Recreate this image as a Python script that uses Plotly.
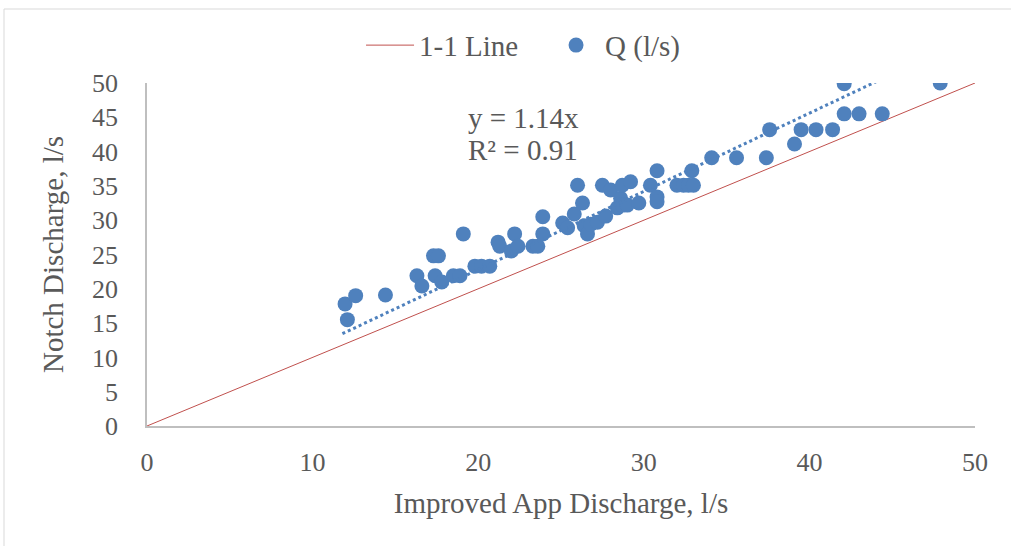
import plotly.graph_objects as go

# Data
app_q = [11.96, 12.1, 12.6, 14.4, 16.3, 16.6, 17.3, 17.6, 17.4, 17.8, 18.5, 18.9,
         19.1, 19.8, 20.2, 20.7, 21.2, 21.3, 22.0, 22.2, 22.4, 23.3, 23.6, 23.9,
         23.9, 25.1, 25.4, 25.8, 26.0, 26.3, 26.4, 26.6, 26.8, 27.2, 27.5, 27.7,
         28.0, 28.4, 28.6, 28.7, 28.7, 29.0, 29.2, 29.7, 30.4, 30.8, 30.8, 30.8,
         32.0, 32.4, 32.7, 32.9, 33.0, 34.1, 35.6, 37.4, 37.6, 39.1, 39.5, 40.4,
         41.4, 42.1, 42.1, 43.0, 44.4, 47.9]
notch_q = [17.8, 15.5, 19.0, 19.1, 21.9, 20.4, 24.8, 24.8, 21.9, 21.0, 21.9, 21.9,
           28.0, 23.3, 23.3, 23.3, 26.8, 26.2, 25.5, 28.0, 26.2, 26.2, 26.2, 30.5,
           28.0, 29.6, 28.9, 30.9, 35.1, 32.5, 29.2, 28.0, 29.4, 29.7, 35.1, 30.6,
           34.4, 31.8, 33.2, 35.1, 32.2, 32.2, 35.6, 32.5, 35.1, 37.2, 33.4, 32.7,
           35.1, 35.1, 35.1, 37.2, 35.1, 39.1, 39.1, 39.1, 43.2, 41.1, 43.2, 43.2,
           43.2, 49.9, 45.5, 45.5, 45.5, 50.0]
one_to_one = [0, 50]
trend_slope = 1.14
trend_x = [11.8, 44.4]
trend_y = [trend_slope * v for v in trend_x]
x_ticks = [0, 10, 20, 30, 40, 50]
y_ticks = [0, 5, 10, 15, 20, 25, 30, 35, 40, 45, 50]

FONT = "Liberation Serif, Times New Roman, serif"
GREY = "#595959"
BIG = 29
TICK = 26

fig = go.Figure()
fig.add_trace(go.Scatter(x=one_to_one, y=one_to_one, mode="lines", name="1-1 Line",
                         line=dict(color="#C0504D", width=1)))
fig.add_trace(go.Scatter(x=app_q, y=notch_q, mode="markers", name="Q (l/s)",
                         marker=dict(color="#4F81BD", size=15)))
fig.add_trace(go.Scatter(x=trend_x, y=trend_y, mode="lines", showlegend=False,
                         line=dict(color="#4F81BD", width=3, dash="dot")))

fig.update_layout(
    width=1011, height=546,
    margin=dict(l=147, r=36, t=83, b=120),
    paper_bgcolor="white", plot_bgcolor="white",
    font=dict(family=FONT, size=BIG, color=GREY),
    legend=dict(orientation="h", x=0.2585, xanchor="left", y=1.11, yanchor="middle",
                font=dict(size=BIG, color=GREY), bgcolor="rgba(0,0,0,0)",
                itemwidth=48, entrywidth=123, entrywidthmode="pixels"),
    xaxis=dict(range=[0, 50], tickvals=x_ticks, showgrid=False, zeroline=False,
               showline=True, linecolor="#BFBFBF", linewidth=1.5,
               ticks="outside", ticklen=12, tickcolor="rgba(0,0,0,0)",
               tickfont=dict(size=TICK, color=GREY),
               title=dict(text="Improved App Discharge, l/s", standoff=17,
                          font=dict(size=BIG, color=GREY))),
    yaxis=dict(range=[0, 50], tickvals=y_ticks, showgrid=False, zeroline=False,
               showline=True, linecolor="#BFBFBF", linewidth=1.5,
               ticks="outside", ticklen=22, tickcolor="rgba(0,0,0,0)",
               tickfont=dict(size=TICK, color=GREY),
               title=dict(text="Notch Discharge, l/s", standoff=20,
                          font=dict(size=BIG, color=GREY))),
    annotations=[
        dict(x=19.26, y=44.9, xref="x", yref="y", text="y = 1.14x", showarrow=False,
             xanchor="left", yanchor="middle", font=dict(size=BIG, color=GREY)),
        dict(x=19.26, y=40.2, xref="x", yref="y", text="R² = 0.91", showarrow=False,
             xanchor="left", yanchor="middle", font=dict(size=BIG, color=GREY)),
    ],
    shapes=[
        dict(type="rect", xref="paper", yref="paper", x0=-0.1727, x1=1.2, y0=-0.5, y1=1.2157,
             line=dict(color="#D9D9D9", width=1), fillcolor="rgba(0,0,0,0)", layer="below"),
    ],
)

fig.write_html("out.html")
